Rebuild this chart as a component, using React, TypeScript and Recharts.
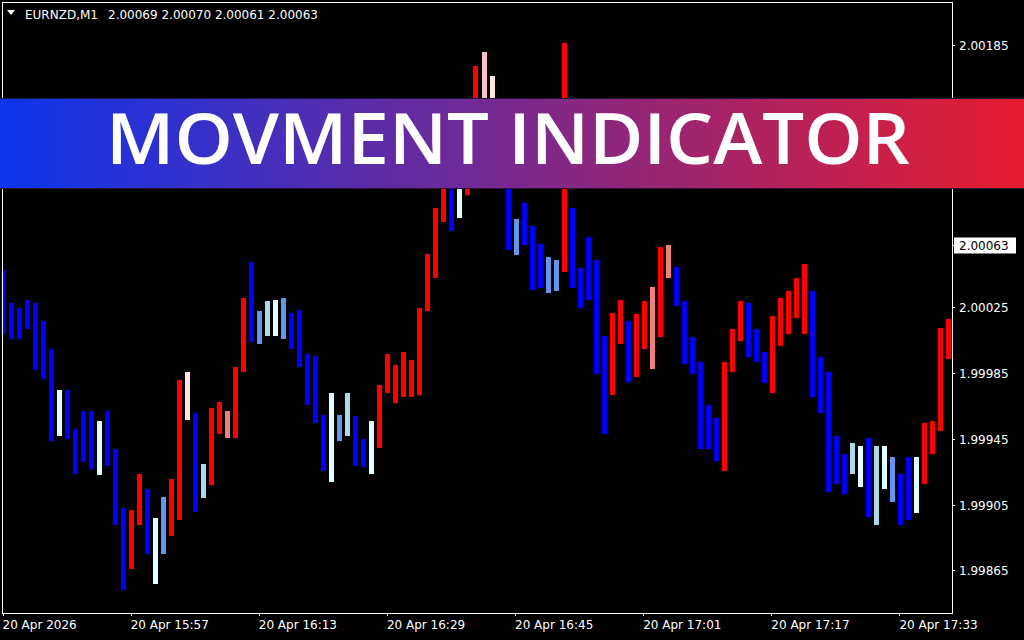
import React from 'react';
import { BarChart, Bar, XAxis, YAxis } from 'recharts';

// Bar highs (price) for each M1 bar
const highs = [
  2.00048, 2.00028, 2.00025, 2.0003, 2.00028, 2.00017, 2.0, 1.99975, 1.99975, 1.99951,
  1.99962, 1.99962, 1.99956, 1.99962, 1.99939, 1.99903, 1.99902, 1.99924, 1.99915, 1.99897,
  1.9991, 1.99921, 1.99981, 1.99986, 1.99961, 1.9993, 1.99964, 1.99968, 1.99962, 1.99989,
  2.00031, 2.00053, 2.00023, 2.00029, 2.0003, 2.00031, 2.00022, 2.00024, 1.99997, 1.99996,
  1.9996, 1.99973, 1.9996, 1.99973, 1.99959, 1.99945, 1.99956, 1.99978, 1.99997, 1.9999,
  1.99998, 1.99993, 2.00025, 2.00058, 2.00086, 2.00121, 2.00112, 2.00109, 2.00139, 2.00172,
  2.00181, 2.00166, 2.00142, 2.00109, 2.00079, 2.00089, 2.00075, 2.00064, 2.00056, 2.00054,
  2.00186, 2.00086, 2.00049, 2.00068, 2.00054, 2.00008, 2.00022, 2.0003, 2.00017, 2.00021,
  2.00029, 2.00038, 2.00062, 2.00063, 2.0005, 2.00029, 2.00007, 1.99992, 1.99966, 1.99958,
  1.99992, 2.00012, 2.00029, 2.00028, 2.00012, 1.99998, 2.0002, 2.00031, 2.00035, 2.00043,
  2.00052, 2.00035, 1.99995, 1.99986, 1.99947, 1.99936, 1.99943, 1.99941, 1.99946, 1.99941,
  1.99941, 1.99934, 1.99924, 1.99934, 1.99934, 1.99955, 1.99956, 2.00013, 2.00018,
];

// Bar lows (price)
const lows = [
  2.00009, 2.00006, 2.00006, 2.00012, 1.99987, 1.99982, 1.99944, 1.99947, 1.99945, 1.99924,
  1.99931, 1.99927, 1.99923, 1.99929, 1.99893, 1.99853, 1.99866, 1.99893, 1.99875, 1.99857,
  1.99875, 1.99886, 1.99896, 1.99957, 1.99901, 1.99909, 1.99917, 1.99948, 1.99946, 1.99946,
  1.99986, 2.00004, 2.00003, 2.00008, 2.00008, 2.00006, 2.0, 1.99989, 1.99966, 1.99955,
  1.99926, 1.99919, 1.99944, 1.99947, 1.99929, 1.99928, 1.99924, 1.9994, 1.99973, 1.99967,
  1.99971, 1.99971, 1.99972, 2.00023, 2.00043, 2.00077, 2.00072, 2.0008, 2.00094, 2.00121,
  2.00139, 2.00136, 2.00106, 2.0006, 2.00057, 2.00063, 2.00036, 2.00037, 2.00034, 2.00035,
  2.00047, 2.00037, 2.00025, 2.0003, 1.99985, 1.99948, 1.99972, 2.00003, 1.9998, 1.99983,
  2.0, 1.99988, 2.00007, 2.00043, 2.00026, 1.99991, 1.99985, 1.99939, 1.99939, 1.99932,
  1.99926, 1.99986, 2.00005, 1.99995, 1.99992, 1.99979, 1.99973, 2.00002, 2.00009, 2.00019,
  2.00009, 1.99971, 1.99961, 1.99913, 1.99918, 1.99912, 1.99924, 1.99916, 1.99898, 1.99893,
  1.99915, 1.99907, 1.99893, 1.99896, 1.999, 1.99918, 1.99936, 1.9995, 1.99994,
];

// Indicator state per bar: B blue, R red, A azure, L light blue, C cornflower, K light coral, P pink, M misty rose
const barStates = (
  'BBBBBBBABB' + 'BBABBBRRBA' + 'CRRMBLRRKR' + 'RBCLACBBBB' + 'BACLBBARRR' +
  'RRRRRRBARR' + 'PMBBCBBBCC' + 'RBBBBBRRBR' + 'RKRKBBBBBB' + 'RRRBBBRRRR' +
  'RBBBBBLABL' + 'ACBBARRRR'
).split('');

const stateColors: Record<string, string> = {
  B: '#0000FF',
  R: '#FF0000',
  A: '#E0FFFF',
  L: '#ADD8E6',
  C: '#6495ED',
  K: '#F08080',
  P: '#FFC0CB',
  M: '#FFE4E1',
};

const firstMinute = 15 * 60 + 41;
const categories = highs.map((_, i) => {
  const m = firstMinute + i;
  return `${Math.floor(m / 60)}:${String(m % 60).padStart(2, '0')}`;
});

const timeTicks = ['15:41', '15:57', '16:13', '16:29', '16:45', '17:01', '17:17', '17:33'];
const timeTickLabels = [
  '20 Apr 2026',
  '20 Apr 15:57',
  '20 Apr 16:13',
  '20 Apr 16:29',
  '20 Apr 16:45',
  '20 Apr 17:01',
  '20 Apr 17:17',
  '20 Apr 17:33',
];

const priceTicks = [2.00185, 2.00063, 2.00025, 1.99985, 1.99945, 1.99905, 1.99865];
const currentPrice = 2.00063;
const priceDomain = [1.998393, 2.002112];

const symbolText = 'EURNZD,M1';
const ohlcText = '2.00069 2.00070 2.00061 2.00063';
const bannerText = 'MOVMENT INDICATOR';

const data = categories.map((t, i) => ({
  time: t,
  range: [lows[i], highs[i]],
  state: barStates[i],
}));

const FONT = 'DejaVu Sans, Tahoma, sans-serif';

const BarShape = (props: any) => {
  const { x, y, width, height, payload } = props;
  if (x == null || y == null) return null;
  const top = height < 0 ? y + height : y;
  return (
    <rect
      x={x}
      y={top}
      width={width}
      height={Math.abs(height)}
      fill={stateColors[payload.state]}
      shapeRendering="crispEdges"
    />
  );
};

const PriceTick = (props: any) => {
  const { x, y, payload } = props;
  const v = payload.value as number;
  const hl = Math.abs(v - currentPrice) < 1e-9;
  return (
    <g>
      {hl && <rect x={x - 5} y={y - 8} width={62} height={16} fill="#ffffff" />}
      <text
        x={x}
        y={y}
        dy={4.5}
        fill={hl ? '#000000' : '#ffffff'}
        fontSize={12}
        fontFamily={FONT}
        textAnchor="start"
      >
        {v.toFixed(5)}
      </text>
    </g>
  );
};

const TimeTick = (props: any) => {
  const { x, y, payload } = props;
  const i = timeTicks.indexOf(payload.value);
  return (
    <text x={x - 0.5} y={y} dy={11} fill="#ffffff" fontSize={12} fontFamily={FONT} textAnchor="start">
      {i >= 0 ? timeTickLabels[i] : ''}
    </text>
  );
};

export default function App() {
  return (
    <div style={{ position: 'fixed', left: 0, top: 0, width: 1024, height: 640, background: '#000', overflow: 'hidden' }}>
      <div style={{ position: 'absolute', left: -1, top: 0 }}>
        <BarChart
          width={1025}
          height={640}
          data={data}
          margin={{ top: 2, right: 0, bottom: 0, left: 0 }}
          barCategoryGap={0}
        >
          <XAxis
            dataKey="time"
            ticks={timeTicks}
            interval={0}
            height={27}
            axisLine={false}
            tickLine={{ stroke: '#ffffff', shapeRendering: 'crispEdges' }}
            tickSize={3}
            tick={<TimeTick />}
          />
          <YAxis
            orientation="right"
            type="number"
            domain={priceDomain}
            allowDataOverflow
            ticks={priceTicks}
            interval={0}
            width={72}
            axisLine={false}
            tickLine={{ stroke: '#ffffff', shapeRendering: 'crispEdges' }}
            tickSize={3}
            tickMargin={4}
            tick={<PriceTick />}
          />
          <Bar dataKey="range" barSize={5} isAnimationActive={false} shape={<BarShape />} />
        </BarChart>
      </div>
      <svg
        width={1024}
        height={640}
        style={{ position: 'absolute', left: 0, top: 0, pointerEvents: 'none' }}
      >
        <defs>
          <linearGradient id="bannerGrad" x1="0" y1="0" x2="1" y2="0">
            <stop offset="0" stopColor="#0B35EE" />
            <stop offset="1" stopColor="#E81C2E" />
          </linearGradient>
        </defs>
        <rect x={2.5} y={2.5} width={950} height={611} fill="none" stroke="#ffffff" strokeWidth={1} shapeRendering="crispEdges" />
        <polygon points="7,10 15,10 11,15" fill="#ffffff" />
        <text x={25} y={19} fill="#ffffff" fontSize={12} fontFamily={FONT}>{symbolText}</text>
        <text x={108} y={19} fill="#ffffff" fontSize={12} fontFamily={FONT}>{ohlcText}</text>
        <rect x={0} y={98} width={1024} height={91} fill="url(#bannerGrad)" />
        <line x1={0} x2={1024} y1={98.5} y2={98.5} stroke="#1a1840" strokeWidth={1} />
        <line x1={0} x2={1024} y1={188.5} y2={188.5} stroke="#2a1430" strokeWidth={1} />
        <text
          x={106}
          y={164}
          fill="#ffffff"
          fontSize={70}
          fontWeight={600}
          fontFamily="Open Sans, Lato, sans-serif"
          textLength={804}
          lengthAdjust="spacingAndGlyphs"
        >
          {bannerText}
        </text>
      </svg>
    </div>
  );
}
